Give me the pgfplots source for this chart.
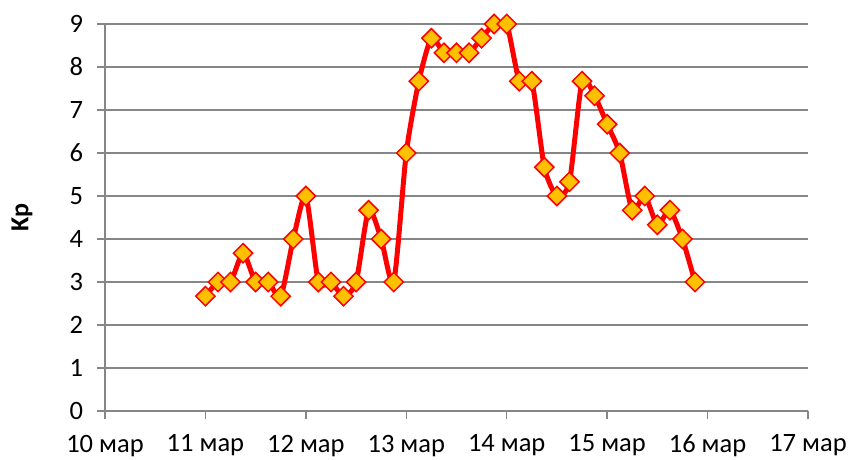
\documentclass[border=0pt]{standalone}
\usepackage{fontspec}
\setmainfont{Carlito}
\usepackage{pgfplots}
\pgfplotsset{compat=1.18}
\definecolor{gridgray}{HTML}{868686}
\definecolor{markfill}{HTML}{FFC000}
\begin{document}
\fontsize{26}{30}\selectfont
\begin{tikzpicture}
\useasboundingbox (-105pt,-48pt) rectangle (744pt,411pt);
\begin{axis}[
  scale only axis,
  width=703pt, height=387pt,
  xmin=10, xmax=17, ymin=0, ymax=9,
  xtick={10,...,17},
  xticklabels={10 мар,11 мар,12 мар,13 мар,14 мар,15 мар,16 мар,17 мар},
  ytick={0,...,9},
  axis x line*=bottom, axis y line*=left,
  axis line style={draw=gridgray, line width=1.5pt, -},
  tick style={draw=gridgray, line width=1.5pt},
  tick align=outside, major tick length=8pt,
  ymajorgrids, grid style={draw=gridgray, line width=1.5pt},
  /pgf/number format/assume math mode=true,
  ticklabel style={font=\fontsize{26.5}{30}\selectfont},
  yticklabel style={xshift=-5pt},
  xticklabel style={yshift=-7pt},
  ylabel={\textbf{Kp}},
  ylabel style={font=\fontsize{26}{30}\selectfont, at={(axis description cs:-0.118,0.5)}, anchor=center},
]
\addplot[red, line width=5pt, smooth, tension=0.4,
  mark=square*, mark size=6.8pt,
  mark options={fill=markfill, draw=red, line width=1.5pt, rotate=45}]
coordinates {
(11.000,2.67) (11.125,3) (11.250,3) (11.375,3.67) (11.500,3) (11.625,3) (11.750,2.67) (11.875,4)
(12.000,5) (12.125,3) (12.250,3) (12.375,2.67) (12.500,3) (12.625,4.67) (12.750,4) (12.875,3)
(13.000,6) (13.125,7.67) (13.250,8.67) (13.375,8.33) (13.500,8.33) (13.625,8.33) (13.750,8.67) (13.875,9)
(14.000,9) (14.125,7.67) (14.250,7.67) (14.375,5.67) (14.500,5) (14.625,5.33) (14.750,7.67) (14.875,7.33)
(15.000,6.67) (15.125,6) (15.250,4.67) (15.375,5) (15.500,4.33) (15.625,4.67) (15.750,4) (15.875,3)
};
\end{axis}
\end{tikzpicture}
\end{document}
